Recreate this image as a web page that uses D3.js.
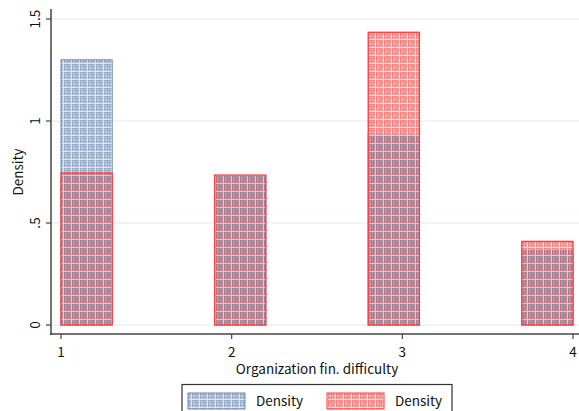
<!DOCTYPE html>
<html>
<head>
<meta charset="utf-8">
<script src="https://cdn.jsdelivr.net/npm/d3@7"></script>
<style>
  body { margin: 0; background: #fff; }
  svg { display: block; font-family: "Noto Sans CJK JP", "Liberation Sans", Arial, sans-serif; }
</style>
</head>
<body>
<svg id="chart" width="579" height="411"></svg>
<script>
// Histogram bins (left edge, width) for "Organization fin. difficulty"
const binStarts = [1, 1.9, 2.8, 3.7];
const binWidth = 0.3;
// Densities of the two overlaid groups
const densityBlue = [1.3, 0.733, 0.933, 0.367];
const densityRed = [0.745, 0.735, 1.435, 0.41];
const xTicks = [1, 2, 3, 4];
const yTicks = [0, 0.5, 1, 1.5];
const yTickLabels = ["0", ".5", "1", "1.5"];
const legendLabels = ["Density", "Density"];

const svg = d3.select("#chart");
const margin = { left: 51, top: 9 };
const W = 579;
const fs = 13.5;

const x = d3.scaleLinear().domain([1, 4]).range([61, 573]);
const y = d3.scaleLinear().domain([0, 1.5]).range([325, 19]);

// Fine mesh fill patterns
const defs = svg.append("defs");
function meshPattern(id, base, dark, light, cross) {
  const n = 8;
  const p = defs.append("pattern").attr("id", id)
    .attr("patternUnits", "userSpaceOnUse").attr("width", n).attr("height", n);
  p.append("rect").attr("width", n).attr("height", n).attr("fill", base);
  [0, 3, 5].forEach(v => {
    p.append("rect").attr("x", v).attr("y", 0).attr("width", 1).attr("height", n).attr("fill", dark);
  });
  [0, 2, 5].forEach(v => {
    p.append("rect").attr("x", 0).attr("y", v).attr("width", n).attr("height", 1).attr("fill", cross || dark);
  });
  p.append("rect").attr("x", 7).attr("y", 0).attr("width", 1).attr("height", n).attr("fill", light);
  p.append("rect").attr("x", 0).attr("y", 7).attr("width", n).attr("height", 1).attr("fill", light);
}
meshPattern("meshBlue", "#c4d0e1", "#9aaecb", "#dde5ef");
meshPattern("meshRed", "#ffb4b4", "#ff8585", "#ffdede");
meshPattern("meshBoth", "#d1929f", "#bd6a7e", "#e8c4cc", "#a88a9e");

// Gridlines
svg.append("g").selectAll("line").data(yTicks).join("line")
  .attr("x1", margin.left + 1).attr("x2", W)
  .attr("y1", d => y(d)).attr("y2", d => y(d))
  .attr("stroke", "#e2ebef").attr("stroke-width", 1.2);

// Bars
const bins = binStarts.map((s, i) => ({ s, b: densityBlue[i], r: densityRed[i] }));
const bx = d => x(d.s);
const bw = d => x(d.s + binWidth) - x(d.s);

svg.append("g").selectAll("rect").data(bins).join("rect")
  .attr("x", bx).attr("width", bw)
  .attr("y", d => y(d.b)).attr("height", d => y(0) - y(d.b))
  .attr("fill", "url(#meshBlue)").attr("stroke", "#6f8ab0").attr("stroke-width", 1);

svg.append("g").selectAll("rect").data(bins).join("rect")
  .attr("x", bx).attr("width", bw)
  .attr("y", d => y(d.r)).attr("height", d => y(0) - y(d.r))
  .attr("fill", "url(#meshRed)");

// Where both groups overlap, the translucent fills blend into a greyish mauve
svg.append("g").selectAll("rect").data(bins).join("rect")
  .attr("x", bx).attr("width", bw)
  .attr("y", d => y(Math.min(d.b, d.r))).attr("height", d => y(0) - y(Math.min(d.b, d.r)))
  .attr("fill", "url(#meshBoth)");

svg.append("g").selectAll("rect").data(bins).join("rect")
  .attr("x", bx).attr("width", bw)
  .attr("y", d => y(d.r)).attr("height", d => y(0) - y(d.r))
  .attr("fill", "none").attr("stroke", "#ff3b3b").attr("stroke-width", 1.3);

// Y axis
const yAxis = svg.append("g").attr("transform", `translate(${margin.left},0)`);
yAxis.append("line").attr("x1", 0).attr("x2", 0).attr("y1", margin.top).attr("y2", 335)
  .attr("stroke", "#444").attr("stroke-width", 1.5);
yAxis.selectAll("line.tk").data(yTicks).join("line").attr("class", "tk")
  .attr("x1", -5).attr("x2", 0).attr("y1", d => y(d)).attr("y2", d => y(d))
  .attr("stroke", "#444").attr("stroke-width", 1.2);
yAxis.selectAll("text").data(yTicks).join("text")
  .attr("transform", d => `translate(-11,${y(d)}) rotate(-90)`)
  .attr("text-anchor", "middle").attr("font-size", fs).attr("fill", "#111")
  .text((d, i) => yTickLabels[i]);

// X axis
const xAxis = svg.append("g").attr("transform", "translate(0,334)");
xAxis.append("line").attr("x1", margin.left - 1).attr("x2", W).attr("y1", 0).attr("y2", 0)
  .attr("stroke", "#444").attr("stroke-width", 1.5);
xAxis.selectAll("line.tk").data(xTicks).join("line").attr("class", "tk")
  .attr("x1", d => x(d)).attr("x2", d => x(d)).attr("y1", 0).attr("y2", 5)
  .attr("stroke", "#444").attr("stroke-width", 1.2);
xAxis.selectAll("text").data(xTicks).join("text")
  .attr("x", d => x(d)).attr("y", 23).attr("text-anchor", "middle")
  .attr("font-size", fs).attr("fill", "#111").text(d => d);

// Axis titles
svg.append("text").attr("x", 317).attr("y", 374).attr("text-anchor", "middle")
  .attr("font-size", fs).attr("fill", "#111").text("Organization fin. difficulty");
svg.append("text").attr("transform", "translate(23,172) rotate(-90)")
  .attr("text-anchor", "middle").attr("font-size", fs).attr("fill", "#111").text("Density");

// Legend
const lg = svg.append("g");
lg.append("rect").attr("x", 182).attr("y", 384.5).attr("width", 270).attr("height", 30)
  .attr("fill", "#fff").attr("stroke", "#333").attr("stroke-width", 1.2);
const swatches = [
  { x: 188, fill: "url(#meshBlue)", stroke: "#6f8ab0" },
  { x: 327, fill: "url(#meshRed)", stroke: "#ff3b3b" }
];
lg.selectAll("rect.sw").data(swatches).join("rect").attr("class", "sw")
  .attr("x", d => d.x).attr("y", 393).attr("width", 57).attr("height", 16)
  .attr("fill", d => d.fill).attr("stroke", d => d.stroke);
lg.selectAll("text").data(swatches).join("text")
  .attr("x", d => d.x + 68).attr("y", 406).attr("font-size", fs).attr("fill", "#111")
  .text((d, i) => legendLabels[i]);
</script>
</body>
</html>
